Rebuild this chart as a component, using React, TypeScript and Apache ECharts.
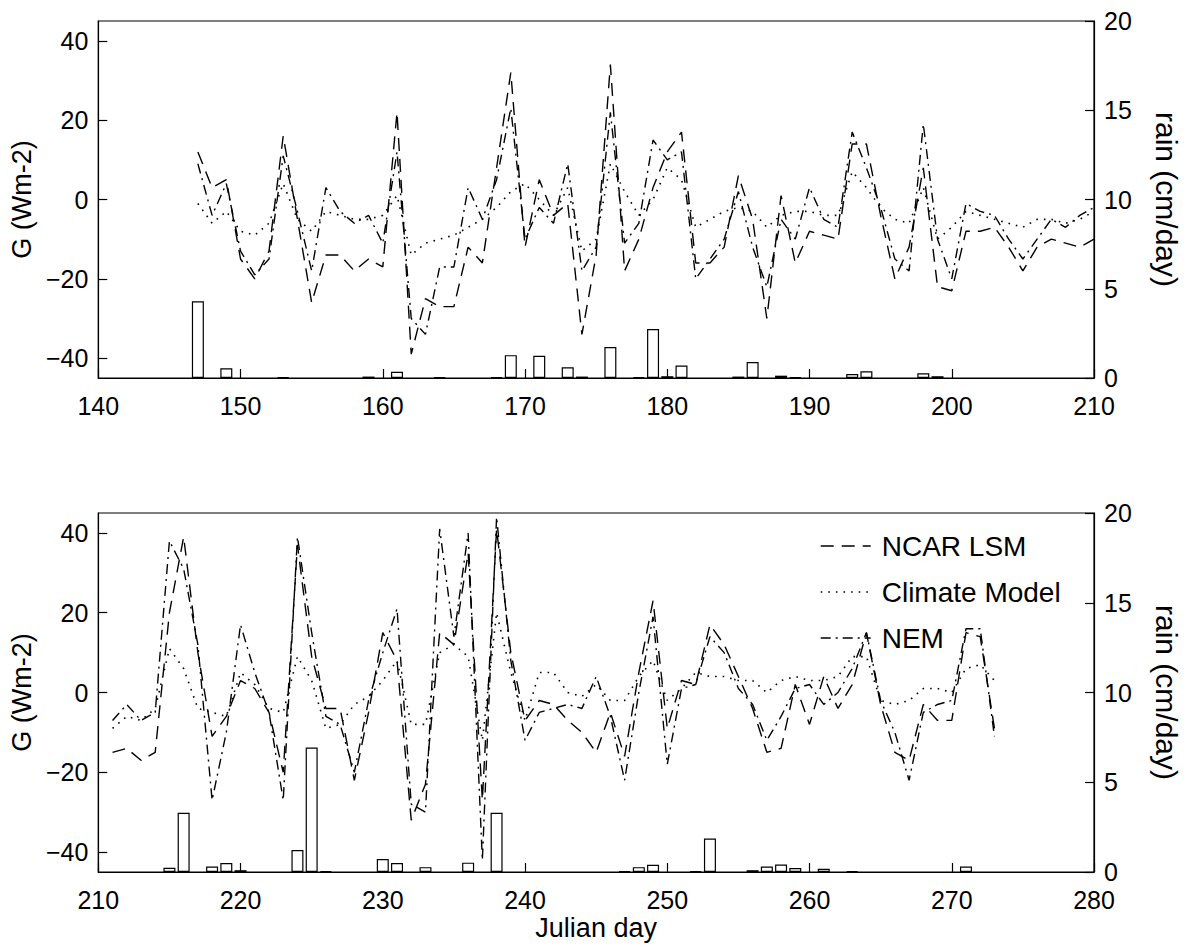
import React, { useEffect, useRef } from "react";
import * as echarts from "echarts";

// ---- Top panel (days 147-210) ----
const topDays = [147,148,149,150,151,152,153,154,155,156,157,158,159,160,161,162,163,164,165,166,167,168,169,170,171,172,173,174,175,176,177,178,179,180,181,182,183,184,185,186,187,188,189,190,191,192,193,194,195,196,197,198,199,200,201,202,203,204,205,206,207,208,209,210];
const topNCAR = [12,3,5,-15,-20,-13,16,-5,-26,-14,-14,-18,-15,-17,22,-39,-25,-27,-27,-12,-16,8,32,-12,5,-4,-1,-34,-14,34,-18,-10,3,12,17,-16,-16,-12,6,-5,-30,1,-16,-8,-9,-10,14,14,-4,-20,-12,8,-22,-23,-8,-8,-7,-12,-18,-12,-10,-11,-12,-10];
const topClimate = [-1,-6,-3,-8,-9,-6,4,-5,-8,-3,-4,-5,-5,-4,1,-14,-11,-10,-9,-7,-5,-2,2,4,0,-4,3,-13,-10,9,2,-4,0,8,5,-7,-5,-3,-2,-3,-7,-4,-3,-3,-4,-4,7,3,-2,-5,-6,3,-10,-7,-3,-4,-5,-6,-7,-5,-5,-6,-5,-3];
const topNEM = [9,-4,4,-13,-19,-15,11,-3,-18,3,-3,-6,-4,-11,12,-30,-34,-17,-17,3,-5,5,23,-10,-2,-6,9,-18,-12,22,-11,-6,15,10,12,-20,-15,-10,2,-12,-22,-5,-10,3,-5,-7,17,8,-2,-15,-18,19,-10,-20,-1,-3,-4,-10,-15,-10,-5,-7,-4,-2];
const topRainDays = [147,149,153,159,161,164,168,169,171,173,174,176,178,179,180,181,185,186,188,189,193,194,198,199];
const topRain = [4.3,0.55,0.05,0.08,0.35,0.05,0.05,1.28,1.25,0.6,0.08,1.73,0.05,2.74,0.1,0.7,0.08,0.9,0.13,0.05,0.22,0.38,0.27,0.1];

// ---- Bottom panel (days 211-273) ----
const botDays = [211,212,213,214,215,216,217,218,219,220,221,222,223,224,225,226,227,228,229,230,231,232,233,234,235,236,237,238,239,240,241,242,243,244,245,246,247,248,249,250,251,252,253,254,255,256,257,258,259,260,261,262,263,264,265,266,267,268,269,270,271,272,273];
const botNCAR = [-15,-14,-17,-15,20,39,10,-11,-6,3,1,-5,-20,37,9,-4,-4,-22,-5,15,8,-32,-23,15,12,35,-27,41,10,-7,-2,-3,-7,-10,-15,-5,-16,5,23,-9,3,2,17,12,4,-4,-15,-14,2,-8,4,-4,2,15,-3,-15,-17,-3,-7,-7,15,14,-9];
const botClimate = [-9,-6,-7,-4,11,6,-4,-5,-6,5,2,-4,-5,9,3,-9,-8,-3,-1,3,8,-8,-8,10,12,9,-12,20,5,-7,5,5,0,-1,2,-2,-2,4,8,-2,1,5,4,4,3,3,0,3,4,3,3,4,9,9,-2,-3,-2,1,1,0,6,7,3];
const botNEM = [-7,-3,-7,-5,38,31,12,-27,-10,17,5,-5,-27,39,15,-6,-8,-20,-2,10,21,-28,-30,41,14,40,-42,44,8,-12,-5,-4,-3,-4,4,-6,-22,0,19,-18,1,2,14,10,1,-3,-12,-6,1,2,-3,0,6,15,-2,-10,-22,-5,-3,-2,16,16,-11];
const botRainDays = [215,216,218,219,220,224,225,226,230,231,233,236,238,247,248,249,252,253,256,257,258,259,261,263,271];
const botRain = [0.24,3.3,0.3,0.5,0.1,1.22,6.94,0.05,0.72,0.5,0.27,0.52,3.3,0.05,0.27,0.4,0.05,1.87,0.1,0.3,0.42,0.22,0.18,0.05,0.3];

const gTicks = [-40, -20, 0, 20, 40];
const seriesNames = ["NCAR LSM", "Climate Model", "NEM"];

const FONT = "'Liberation Sans', Arial, Helvetica, sans-serif";

const pairs = (xs: number[], ys: number[]) => xs.map((x, i) => [x, ys[i]]);

const lineStyles: any[] = [
  { color: "#000", width: 1.4, type: [13, 8] },
  { color: "#000", width: 1.6, type: [1.6, 6] },
  { color: "#000", width: 1.4, type: [10, 5, 2, 5] },
];

export default function App() {
  const ref = useRef<HTMLDivElement>(null);
  useEffect(() => {
    document.body.style.margin = "0";
    if (!ref.current) return;
    const chart = echarts.init(ref.current, null, { renderer: "svg" });
    const minus = (v: number) => String(v).replace("-", "\u2212");
    const xAxisBase = (gi: number, min: number, max: number) => ({
      gridIndex: gi,
      type: "value",
      min,
      max,
      interval: 10,
      axisLine: { show: true, onZero: false, lineStyle: { color: "#000", width: 1.2 } },
      axisTick: { show: true, inside: true, length: 9, lineStyle: { color: "#000", width: 1.2 } },
      axisLabel: { color: "#000", fontSize: 25, fontFamily: FONT, margin: 15 },
      splitLine: { show: false },
    });
    const gAxis = (gi: number) => ({
      gridIndex: gi,
      type: "value",
      position: "left",
      min: -45,
      max: 45,
      name: "G (Wm-2)",
      nameLocation: "middle",
      nameGap: 60,
      nameTextStyle: { color: "#000", fontSize: 27, fontFamily: FONT },
      axisLine: { show: true, lineStyle: { color: "#000", width: 1.2 } },
      axisTick: { show: true, inside: true, length: 9, customValues: gTicks, lineStyle: { color: "#000", width: 1.2 } },
      axisLabel: { color: "#000", fontSize: 25, fontFamily: FONT, margin: 10, customValues: gTicks, formatter: minus },
      splitLine: { show: false },
    });
    const rainAxis = (gi: number) => ({
      gridIndex: gi,
      type: "value",
      position: "right",
      min: 0,
      max: 20,
      interval: 5,
      name: "rain (cm/day)",
      nameLocation: "middle",
      nameRotate: -90,
      nameGap: 57,
      nameTextStyle: { color: "#000", fontSize: 30, fontFamily: FONT },
      axisLine: { show: true, lineStyle: { color: "#000", width: 1.2 } },
      axisTick: { show: true, inside: true, length: 9, lineStyle: { color: "#000", width: 1.2 } },
      axisLabel: { color: "#000", fontSize: 25, fontFamily: FONT, margin: 10 },
      splitLine: { show: false },
    });
    const barSeries = (gi: number, days: number[], vals: number[]) => ({
      type: "bar",
      name: "rain",
      xAxisIndex: gi,
      yAxisIndex: gi * 2 + 1,
      data: pairs(days, vals),
      barWidth: 12,
      itemStyle: { color: "#fff", borderColor: "#000", borderWidth: 1.2 },
      z: 1,
      silent: true,
    });
    const lineSeries = (gi: number, k: number, days: number[], vals: number[]) => ({
      type: "line",
      name: seriesNames[k],
      xAxisIndex: gi,
      yAxisIndex: gi * 2,
      data: pairs(days, vals),
      symbol: "none",
      lineStyle: lineStyles[k],
      itemStyle: { color: "#000" },
      z: 3,
    });
    const xb = { ...xAxisBase(1, 210, 280), name: "Julian day", nameLocation: "middle", nameGap: 42, nameTextStyle: { color: "#000", fontSize: 27, fontFamily: FONT } };
    chart.setOption({
      animation: false,
      backgroundColor: "#fff",
      grid: [
        { left: 98, top: 21, width: 1007, height: 357, show: true, borderColor: "#000", borderWidth: 1.2, backgroundColor: "transparent" },
        { left: 98, top: 513, width: 1007, height: 359, show: true, borderColor: "#000", borderWidth: 1.2, backgroundColor: "transparent" },
      ],
      xAxis: [xAxisBase(0, 140, 210), xb],
      yAxis: [gAxis(0), rainAxis(0), gAxis(1), rainAxis(1)],
      legend: {
        data: seriesNames,
        orient: "vertical",
        left: 815,
        top: 526,
        itemWidth: 50,
        itemHeight: 20,
        itemGap: 16,
        selectedMode: false,
        itemStyle: { opacity: 0 },
        lineStyle: { width: 1.4 },
        textStyle: { color: "#000", fontSize: 28, fontFamily: FONT, padding: [0, 0, 0, 6], lineHeight: 30 },
      },
      series: [
        barSeries(0, topRainDays, topRain),
        barSeries(1, botRainDays, botRain),
        lineSeries(0, 0, topDays, topNCAR),
        lineSeries(0, 1, topDays, topClimate),
        lineSeries(0, 2, topDays, topNEM),
        lineSeries(1, 0, botDays, botNCAR),
        lineSeries(1, 1, botDays, botClimate),
        lineSeries(1, 2, botDays, botNEM),
      ],
    });
    return () => chart.dispose();
  }, []);
  return <div ref={ref} style={{ width: 1189, height: 947 }} />;
}
